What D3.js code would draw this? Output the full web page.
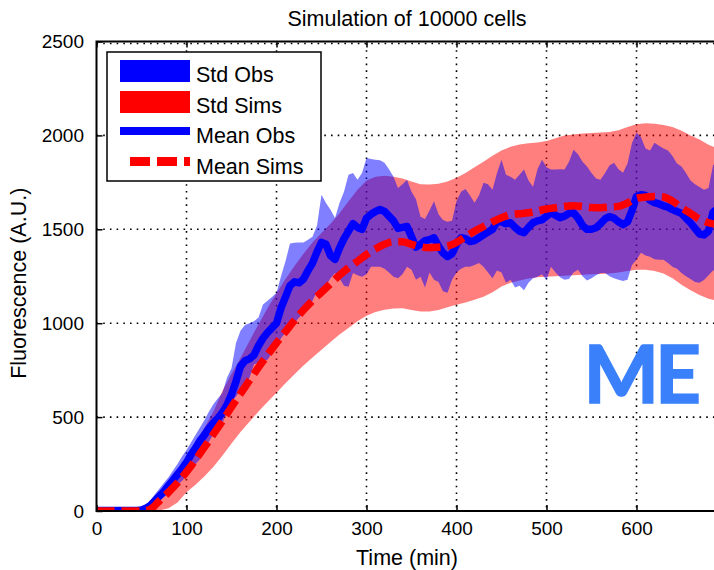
<!DOCTYPE html>
<html><head><meta charset="utf-8">
<script src="https://cdn.jsdelivr.net/npm/d3@7"></script>
<style>body{margin:0;background:#fff}svg{display:block}</style>
</head><body>
<svg id="c" width="714" height="570"></svg>
<script>
const title = "Simulation of 10000 cells";
const xLabel = "Time (min)";
const yLabel = "Fluorescence (A.U.)";
const xTicks = [0,100,200,300,400,500,600];
const yTicks = [0,500,1000,1500,2000,2500];
const legendLabels = ["Std Obs","Std Sims","Mean Obs","Mean Sims"];
const stamp = "ME";

const simTime = [0,10,20,30,40,50,60,70,80,90,100,110,120,130,140,150,160,170,180,190,200,210,220,230,240,250,260,270,280,290,300,310,320,330,340,350,360,370,380,390,400,410,420,430,440,450,460,470,480,490,500,510,520,530,540,550,560,570,580,590,600,610,620,630,640,650,660,670,680,690,700];
const simMean = [0,0,0,0,0,0,10,55,100,150,208,272,340,410,480,554,625,695,765,830,895,955,1015,1070,1120,1165,1210,1255,1295,1330,1365,1395,1420,1434,1434,1420,1407,1402,1405,1410,1430,1462,1490,1515,1540,1562,1578,1583,1588,1598,1608,1615,1622,1626,1622,1616,1615,1618,1622,1640,1665,1672,1675,1672,1650,1615,1585,1555,1535,1525,1520];
const simLower = [0,0,0,0,0,0,0,3,15,45,100,140,185,235,295,360,420,475,530,580,630,680,728,775,818,858,900,940,975,1010,1040,1060,1072,1078,1080,1070,1062,1062,1070,1085,1098,1110,1125,1141,1165,1195,1215,1228,1238,1245,1248,1250,1253,1255,1258,1260,1262,1265,1270,1278,1285,1285,1278,1265,1240,1205,1175,1150,1130,1120,1115];
const simUpper = [0,0,0,0,0,0,15,60,130,205,280,360,445,530,640,730,815,905,995,1080,1160,1235,1305,1370,1430,1480,1530,1585,1650,1710,1760,1780,1785,1780,1770,1755,1740,1738,1742,1755,1775,1800,1830,1860,1892,1920,1940,1952,1958,1962,1970,1985,2000,2005,2010,2013,2015,2018,2028,2045,2060,2065,2062,2055,2045,2025,2000,1978,1950,1930,1925];

const obsTime = [0,5,10,15,20,25,30,35,40,45,50,55,60,65,70,75,80,85,90,95,100,105,110,115,120,125,130,135,140,145,150,155,160,165,170,175,180,185,190,195,200,205,210,215,220,225,230,235,240,245,250,255,260,265,270,275,280,285,290,295,300,305,310,315,320,325,330,335,340,345,350,355,360,365,370,375,380,385,390,395,400,405,410,415,420,425,430,435,440,445,450,455,460,465,470,475,480,485,490,495,500,505,510,515,520,525,530,535,540,545,550,555,560,565,570,575,580,585,590,595,600,605,610,615,620,625,630,635,640,645,650,655,660,665,670,675,680,685,690,695,700];
const obsMean = [3,3,3,3,3,3,3,3,3,3,
 5,15,30,55,80,105,135,165,195,225,
 258,300,335,375,405,440,470,495,525,565,
 620,690,770,800,810,830,880,920,950,975,
 1000,1080,1140,1200,1220,1215,1235,1280,1320,1380,
 1430,1420,1360,1340,1400,1450,1490,1530,1510,1500,
 1560,1580,1595,1605,1595,1570,1545,1505,1510,1515,
 1460,1405,1420,1440,1445,1455,1410,1375,1355,1370,
 1420,1455,1450,1435,1440,1455,1470,1485,1500,1540,
 1540,1530,1535,1510,1490,1482,1510,1535,1545,1550,
 1570,1588,1575,1562,1570,1585,1588,1560,1520,1500,
 1500,1508,1530,1555,1567,1560,1540,1525,1540,1600,
 1675,1684,1680,1655,1642,1635,1625,1618,1605,1595,
 1585,1560,1535,1505,1475,1470,1490,1590,1610,1600,1590];
const obsUpper = [5,5,5,5,5,5,5,5,5,5,
 8,25,55,90,120,150,180,215,250,290,
 325,365,405,445,485,530,570,600,630,710,
 760,895,960,990,1000,1010,1030,1100,1120,1140,
 1162,1250,1330,1425,1428,1430,1430,1445,1460,1520,
 1684,1640,1604,1560,1640,1700,1790,1800,1764,1800,
 1880,1875,1870,1868,1855,1820,1780,1720,1740,1764,
 1700,1660,1567,1555,1600,1650,1580,1550,1540,1545,
 1650,1700,1715,1680,1642,1680,1748,1740,1711,1800,
 1871,1790,1780,1764,1790,1818,1760,1727,1820,1871,
 1830,1818,1818,1820,1818,1860,1924,1900,1860,1834,
 1800,1770,1764,1800,1840,1855,1820,1801,1850,1960,
 2015,1990,1930,1920,1961,1945,1930,1920,1890,1850,
 1834,1800,1760,1740,1725,1711,1720,1840,1870,1860,1850];
const obsLower = [1,1,1,1,1,1,1,1,1,1,
 2,8,18,35,55,75,95,120,140,160,
 190,220,250,275,320,370,410,440,469,530,
 580,610,640,670,710,780,790,800,805,840,
 874,920,950,981,1000,1030,1050,1070,1120,1170,
 1178,1200,1240,1267,1240,1200,1194,1267,1255,1247,
 1260,1300,1300,1300,1290,1270,1247,1240,1260,1300,
 1285,1231,1247,1190,1270,1231,1220,1170,1162,1231,
 1270,1290,1300,1300,1310,1320,1300,1270,1240,1280,
 1270,1215,1231,1190,1200,1175,1215,1240,1247,1260,
 1230,1300,1270,1245,1231,1235,1270,1285,1250,1228,
 1240,1255,1267,1267,1250,1240,1231,1225,1231,1310,
 1338,1375,1360,1354,1340,1338,1338,1320,1300,1290,
 1267,1250,1235,1220,1215,1230,1255,1280,1285,1280,1275];

const W = 714, H = 570;
const xMax = 690;
const box = {l: 96.5, t: 41.5, b: 511};
box.r = box.l + 0.9 * xMax;
const FONT = "'Liberation Sans', Arial, Helvetica, sans-serif";

const x = d3.scaleLinear().domain([0, xMax]).range([box.l, box.r]);
const y = d3.scaleLinear().domain([0, 2500]).range([box.b, box.t]);

const svg = d3.select("#c");
svg.append("rect").attr("width", W).attr("height", H).attr("fill", "#fff");

svg.append("defs").append("clipPath").attr("id", "plot")
  .append("rect").attr("x", box.l).attr("y", box.t)
  .attr("width", box.r - box.l).attr("height", box.b - box.t);

// grid
const grid = svg.append("g").attr("stroke", "#000").attr("stroke-width", 1.6)
  .attr("stroke-dasharray", "1.6,5.1");
grid.selectAll(".vx").data(xTicks.filter(d => d > 0)).join("line")
  .attr("x1", d => x(d)).attr("x2", d => x(d)).attr("y1", box.t + 2).attr("y2", box.b);
grid.selectAll(".hy").data(yTicks.filter(d => d > 0)).join("line")
  .attr("y1", d => y(d) + (d === 2500 ? 2 : 0)).attr("y2", d => y(d) + (d === 2500 ? 2 : 0))
  .attr("x1", box.l).attr("x2", box.r);

const plot = svg.append("g").attr("clip-path", "url(#plot)");

const simRows = simTime.map((t, i) => ({t, lo: simLower[i], hi: simUpper[i], m: simMean[i]}));
const obsRows = obsTime.map((t, i) => ({t, lo: obsLower[i], hi: obsUpper[i], m: obsMean[i]}));

const band = d3.area().x(d => x(d.t)).y0(d => y(d.lo)).y1(d => y(d.hi));
const mid = d3.line().x(d => x(d.t)).y(d => y(d.m));

plot.append("path").datum(simRows).attr("d", band).attr("fill", "#ff0000").attr("fill-opacity", 0.5);
plot.append("path").datum(obsRows).attr("d", band).attr("fill", "#0000ff").attr("fill-opacity", 0.5);
plot.append("path").datum(obsRows).attr("d", mid).attr("fill", "none")
  .attr("stroke", "#0000ff").attr("stroke-width", 7.5).attr("stroke-linejoin", "round");
plot.append("path").datum(simRows).attr("d", mid.curve(d3.curveMonotoneX)).attr("fill", "none")
  .attr("stroke", "#ff0000").attr("stroke-width", 7.5).attr("stroke-dasharray", "18,7");

// axes
const fmt = d3.format("d");
function styleAxis(g) {
  g.select(".domain").remove();
  g.selectAll(".tick line").attr("stroke", "#000").attr("stroke-width", 1.5);
  g.selectAll("text").attr("font-family", FONT).attr("font-size", 19).attr("fill", "#000");
}
svg.append("g").attr("transform", `translate(0,${box.b})`)
  .call(d3.axisBottom(x).tickValues(xTicks).tickFormat(fmt).tickSizeInner(-6).tickSizeOuter(0).tickPadding(10.5))
  .call(styleAxis);
svg.append("g").attr("transform", `translate(0,${box.t})`)
  .call(d3.axisTop(x).tickValues(xTicks).tickSizeInner(-6).tickSizeOuter(0).tickFormat(""))
  .call(styleAxis);
svg.append("g").attr("transform", `translate(${box.l},0)`)
  .call(d3.axisLeft(y).tickValues(yTicks).tickFormat(fmt).tickSizeInner(-6).tickSizeOuter(0).tickPadding(12.5))
  .call(styleAxis);

svg.append("rect").attr("x", box.l).attr("y", box.t)
  .attr("width", box.r - box.l).attr("height", box.b - box.t)
  .attr("fill", "none").attr("stroke", "#000").attr("stroke-width", 2);

// labels
svg.append("text").attr("x", (box.l + box.r) / 2).attr("y", 26)
  .attr("text-anchor", "middle").attr("font-family", FONT).attr("font-size", 21.5).text(title);
svg.append("text").attr("x", (box.l + box.r) / 2).attr("y", 565)
  .attr("text-anchor", "middle").attr("font-family", FONT).attr("font-size", 21.5).text(xLabel);
svg.append("text").attr("transform", `translate(26,${(box.t + box.b) / 2 + 7}) rotate(-90)`)
  .attr("text-anchor", "middle").attr("font-family", FONT).attr("font-size", 21.5).text(yLabel);

// legend
const lg = svg.append("g");
lg.append("rect").attr("x", 107).attr("y", 52).attr("width", 214).attr("height", 129)
  .attr("fill", "#fff").attr("stroke", "#000").attr("stroke-width", 1.5);
lg.append("rect").attr("x", 120).attr("y", 60).attr("width", 70).attr("height", 22).attr("fill", "#0000ff");
lg.append("rect").attr("x", 120).attr("y", 91).attr("width", 70).attr("height", 22).attr("fill", "#ff0000");
lg.append("line").attr("x1", 120).attr("x2", 190).attr("y1", 131).attr("y2", 131)
  .attr("stroke", "#0000ff").attr("stroke-width", 8);
lg.append("line").attr("x1", 130).attr("x2", 190).attr("y1", 161.5).attr("y2", 161.5)
  .attr("stroke", "#ff0000").attr("stroke-width", 9).attr("stroke-dasharray", "20,7");
lg.selectAll(".lt").data(legendLabels).join("text")
  .attr("x", 196).attr("y", (d, i) => 82 + i * 30.5)
  .attr("font-family", FONT).attr("font-size", 21.5).attr("fill", "#000").text(d => d);

// stamp
svg.append("text").attr("x", 697).attr("y", 403).attr("text-anchor", "end")
  .attr("font-family", "Lato, 'Open Sans', sans-serif").attr("font-weight", 700)
  .attr("font-size", 80).attr("letter-spacing", -4)
  .attr("fill", "#3a80fb").attr("stroke", "#3a80fb").attr("stroke-width", 1.5)
  .text(stamp);
</script>
</body></html>
